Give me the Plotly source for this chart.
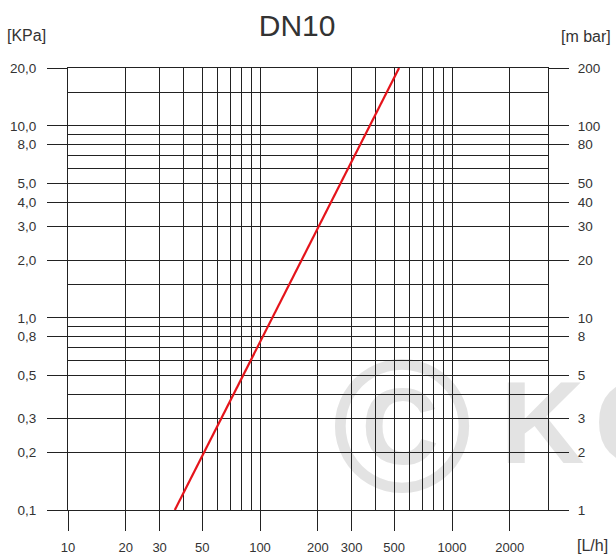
import math
import plotly.graph_objects as go

# ---- data ----
flow_lh = [36, 530]          # [L/h]
dp_kpa = [0.1, 20]           # [KPa]

x_major = [10, 20, 30, 50, 100, 200, 300, 500, 1000, 2000]
x_major_text = ["10", "20", "30", "50", "100", "200", "300", "500", "1000", "2000"]
x_minor = [40, 60, 70, 80, 90, 400, 600, 700, 800, 900]

y_major = [20, 10, 8, 5, 4, 3, 2, 1, 0.8, 0.5, 0.3, 0.2, 0.1]
y_major_text = ["20,0", "10,0", "8,0", "5,0", "4,0", "3,0", "2,0", "1,0",
                "0,8", "0,5", "0,3", "0,2", "0,1"]
y_minor = [15, 9, 7, 6, 1.5, 0.9, 0.7, 0.6, 0.4]

mbar_major = [200, 100, 80, 50, 40, 30, 20, 10, 8, 5, 3, 2, 1]
mbar_text = [str(v) for v in mbar_major]

x_range = [10, 3162]
y_range = [0.1, 20]
mbar_range = [1, 200]

FONT = "Liberation Sans Narrow, Arial Narrow, Liberation Sans, Arial, sans-serif"
LINE = "#222222"
TXT = "#333333"
WM = "#e3e3e3"

fig = go.Figure()
fig.add_trace(go.Scatter(x=flow_lh, y=dp_kpa, mode="lines",
                         line=dict(color="#e5141b", width=2.2),
                         hoverinfo="skip", showlegend=False))
fig.add_trace(go.Scatter(x=flow_lh, y=[v * 10 for v in dp_kpa], yaxis="y2",
                         mode="lines", line=dict(width=0), opacity=0,
                         hoverinfo="skip", showlegend=False))

axis_common = dict(type="log", ticks="outside", ticklen=20, tickcolor=LINE,
                   tickwidth=1, showgrid=True, gridcolor=LINE, gridwidth=1,
                   zeroline=False, fixedrange=True, automargin=False)

fig.update_layout(
    width=616, height=557,
    margin=dict(l=68, r=68, t=68, b=47),
    paper_bgcolor="white", plot_bgcolor="rgba(0,0,0,0)",
    font=dict(family=FONT, color=TXT),
    title=dict(text="DN10", x=294 / 616, xanchor="center", xref="paper",
               yref="container", y=1 - 25 / 557, yanchor="middle",
               font=dict(size=30, color=TXT, family=FONT)),
    xaxis=dict(**axis_common,
               range=[math.log10(x_range[0]), math.log10(x_range[1])],
               tickvals=x_major, ticktext=x_major_text,
               tickfont=dict(size=13, color=TXT),
               ticklabelstandoff=5,
               minor=dict(tickvals=x_minor, showgrid=True, gridcolor=LINE,
                          gridwidth=1, ticks=""),
               showline=True, mirror=True, linecolor=LINE, linewidth=1),
    yaxis=dict(**axis_common,
               range=[math.log10(y_range[0]), math.log10(y_range[1])],
               tickvals=y_major, ticktext=y_major_text,
               tickfont=dict(size=13.5, color=TXT),
               ticklabelstandoff=8,
               minor=dict(tickvals=y_minor, showgrid=True, gridcolor=LINE,
                          gridwidth=1, ticks=""),
               showline=True, mirror=True, linecolor=LINE, linewidth=1),
    yaxis2=dict(type="log", overlaying="y", side="right", anchor="x",
                range=[math.log10(mbar_range[0]), math.log10(mbar_range[1])],
                tickvals=mbar_major, ticktext=mbar_text,
                ticks="outside", ticklen=20, tickcolor=LINE, tickwidth=1,
                tickfont=dict(size=13.5, color=TXT), ticklabelstandoff=6,
                showgrid=False, showline=False, zeroline=False,
                fixedrange=True, automargin=False),
    annotations=[
        dict(text="[KPa]", xref="paper", yref="paper",
             x=(26 - 68) / 480, y=(510 - 35) / 442, showarrow=False,
             xanchor="center", yanchor="middle", font=dict(size=16, color=TXT)),
        dict(text="[m bar]", xref="paper", yref="paper",
             x=(586 - 68) / 480, y=(510 - 36) / 442, showarrow=False,
             xanchor="center", yanchor="middle", font=dict(size=16, color=TXT)),
        dict(text="[L/h]", xref="paper", yref="paper",
             x=(592 - 68) / 480, y=(510 - 545) / 442, showarrow=False,
             xanchor="center", yanchor="middle", font=dict(size=16, color=TXT)),
    ],
    shapes=[
        dict(type="rect", xref="paper", yref="paper", layer="below",
             x0=(300 - 68) / 480, x1=(504 - 68) / 480,
             y0=(510 - 486) / 442, y1=(510 - 330) / 442,
             line=dict(width=0), fillcolor="rgba(0,0,0,0)",
             label=dict(text="©", textposition="middle center",
                        font=dict(size=190, color=WM,
                                  family="Liberation Sans, Arial", weight="bold"))),
        dict(type="rect", xref="paper", yref="paper", layer="below",
             x0=(494 - 68) / 480, x1=(760 - 68) / 480,
             y0=(510 - 486) / 442, y1=(510 - 336) / 442,
             line=dict(width=0), fillcolor="rgba(0,0,0,0)",
             label=dict(text="K\u200aO", textposition="middle left",
                        font=dict(size=117, color=WM,
                                  family="Liberation Sans, Arial", weight="bold"))),
    ],
)

fig.write_html("out.html", config={"displayModeBar": False},
               post_script="document.body.style.margin='0';")
